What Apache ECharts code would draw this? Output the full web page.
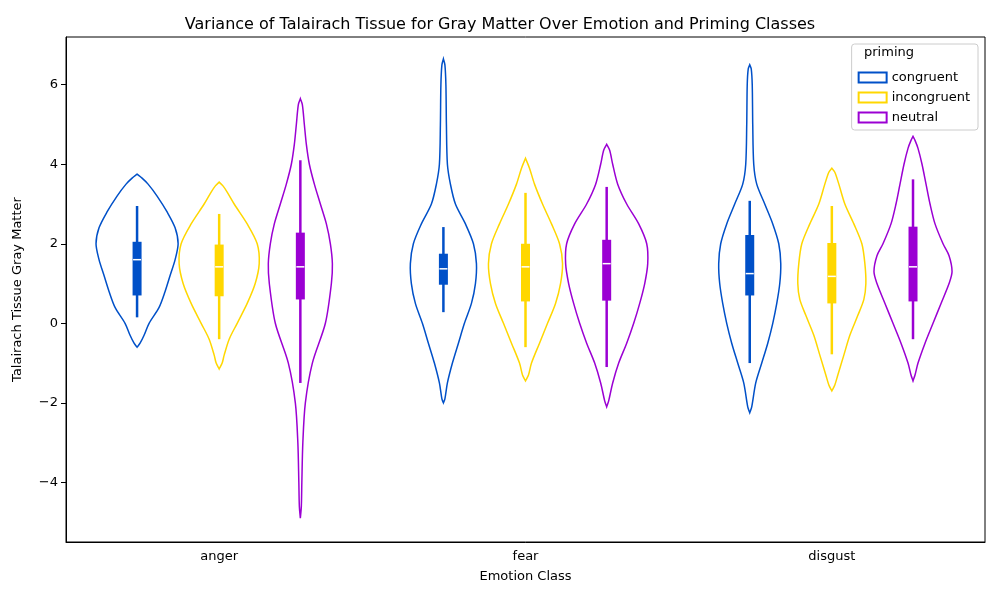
<!DOCTYPE html>
<html>
<head>
<meta charset="utf-8">
<script src="https://cdn.jsdelivr.net/npm/echarts@6/dist/echarts.min.js"></script>
<title>Violin</title>
</head>
<body style="margin:0">
<div id="main" style="width:1000px;height:600px;"></div>
<script type="text/javascript">
var categories = ['anger', 'fear', 'disgust'];
var priming = ['congruent', 'incongruent', 'neutral'];
var colors = ['#0050c8', '#ffd700', '#9b00d3'];

// violin outlines: [value, half width (px at 306px band)]
var congruentProfiles = [
  [[-0.6,0],[-0.5,3],[-0.3,7],[0,12],[0.4,22],[0.8,28],[1.2,33],[1.6,38],[2.0,41],[2.4,38],[2.8,30],[3.2,20],[3.5,11],[3.65,5],[3.75,0]],
  [[-2,0],[-1.9,1.5],[-1.5,4],[-1,9],[-0.5,15],[0,21],[0.5,28],[1,32],[1.5,33],[2,30],[2.5,22],[3,12],[3.5,7],[4,4],[5,3],[6,2.5],[6.5,1.5],[6.65,0]],
  [[-2.25,0],[-2.1,2],[-1.5,6],[-1,12],[-0.5,18],[0,23],[0.5,27],[1,30],[1.5,31],[2,29],[2.5,23],[3,15],[3.5,7],[4,4],[5,3],[6,2.5],[6.4,1.5],[6.5,0]]
];
var incongruentProfiles = [
  [[-1.15,0],[-1.0,3],[-0.8,5],[-0.4,10],[0,18],[0.5,28],[1,36],[1.5,40],[2,38],[2.5,28],[3,15],[3.3,8],[3.45,4],[3.55,0]],
  [[-1.45,0],[-1.3,3],[-1,6],[-0.5,14],[0,22],[0.5,30],[1,35],[1.5,37],[2,34],[2.5,26],[3,17],[3.5,9],[3.9,4],[4.15,0]],
  [[-1.7,0],[-1.55,3],[-1.3,6],[-0.8,12],[-0.3,18],[0.2,26],[0.6,32],[1,34],[1.5,33],[2,30],[2.5,22],[3,13],[3.5,7],[3.8,3],[3.9,0]]
];
var neutralProfiles = [
  [[-4.9,0],[-4.6,1],[-4,1.5],[-3,2.5],[-2,5],[-1,12],[0,25],[1,31],[1.5,32],[2,30],[2.5,26],[3,20],[3.5,14],[4,9],[4.5,6],[5,4],[5.5,2],[5.65,0]],
  [[-2.1,0],[-1.95,2],[-1.5,6],[-1,12],[-0.5,20],[0,27],[0.5,33],[1,38],[1.5,41],[2,40],[2.5,32],[3,20],[3.5,11],[4,6],[4.35,3],[4.5,0]],
  [[-1.45,0],[-1.3,2],[-1,5],[-0.5,12],[0,20],[0.5,28],[1,36],[1.3,39],[1.7,36],[2,30],[2.5,22],[3,17],[3.5,13],[4,9],[4.4,5],[4.6,2],[4.7,0]]
];
// box stats: [whisker low, q1, median, q3, whisker high]
var congruentBoxes = [[0.15,0.7,1.6,2.05,2.95],[0.28,0.97,1.37,1.75,2.42],[-1.0,0.7,1.25,2.22,3.08]];
var incongruentBoxes = [[-0.4,0.68,1.42,1.98,2.75],[-0.6,0.55,1.42,2.0,3.28],[-0.78,0.5,1.18,2.02,2.95]];
var neutralBoxes = [[-1.5,0.6,1.42,2.28,4.1],[-1.1,0.57,1.5,2.1,3.43],[-0.4,0.55,1.42,2.43,3.62]];

var profiles = [congruentProfiles, incongruentProfiles, neutralProfiles];
var boxes = [congruentBoxes, incongruentBoxes, neutralBoxes];
var offsets = [-0.268, 0, 0.265];

function makeSeries(g) {
  return {
    name: priming[g],
    type: 'custom',
    itemStyle: { color: 'transparent', borderColor: colors[g], borderWidth: 1.5 },
    data: categories.map(function (c, i) { return [i]; }),
    renderItem: function (params, api) {
      var i = api.value(0);
      var band = api.size([1, 0])[0];
      var cx = api.coord([i, 0])[0] + offsets[g] * band;
      var prof = profiles[g][i];
      var right = [], left = [];
      prof.forEach(function (p) {
        var y = api.coord([i, p[0]])[1];
        var w = p[1] / 306 * band;
        right.push([cx + w, y]);
        left.unshift([cx - w, y]);
      });
      var b = boxes[g][i];
      var yy = b.map(function (v) { return api.coord([i, v])[1]; });
      return {
        type: 'group',
        children: [
          { type: 'polygon', shape: { points: right.concat(left), smooth: 0.3 },
            style: { fill: 'none', stroke: colors[g], lineWidth: 1.5 } },
          { type: 'line', shape: { x1: cx, y1: yy[0], x2: cx, y2: yy[4] },
            style: { stroke: colors[g], lineWidth: 2.5 } },
          { type: 'rect', shape: { x: cx - 4.5, y: yy[3], width: 9, height: yy[1] - yy[3] },
            style: { fill: colors[g] } },
          { type: 'line', shape: { x1: cx - 4, y1: yy[2], x2: cx + 4, y2: yy[2] },
            style: { stroke: '#fff', lineWidth: 1.5 } }
        ]
      };
    }
  };
}

var myChart = echarts.init(document.getElementById('main'));
myChart.setOption({
  animation: false,
  textStyle: { fontFamily: 'DejaVu Sans' },
  title: { text: 'Variance of Talairach Tissue for Gray Matter Over Emotion and Priming Classes',
    left: 'center', top: 12, textStyle: { fontFamily: 'DejaVu Sans', fontSize: 16, fontWeight: 'normal', color: '#000' } },
  grid: { left: 66, right: 15, top: 37, bottom: 58, show: true, borderColor: '#000', borderWidth: 1 },
  legend: {
    orient: 'vertical', right: 22, top: 44, padding: [27, 8, 6, 6],
    borderColor: '#ccc', borderWidth: 1, borderRadius: 3, backgroundColor: '#fff',
    itemWidth: 28, itemHeight: 10, itemGap: 7, icon: 'rect',
    textStyle: { fontFamily: 'DejaVu Sans', fontSize: 13, color: '#000' },
    data: priming
  },
  graphic: [{ type: 'text', right: 86, top: 46, z: 100, style: { text: 'priming', font: '13px DejaVu Sans', fill: '#000' } }],
  xAxis: {
    type: 'category', data: categories, name: 'Emotion Class', nameLocation: 'middle', nameGap: 28,
    nameTextStyle: { fontFamily: 'DejaVu Sans', fontSize: 13, color: '#000' },
    axisLine: { onZero: false, lineStyle: { color: '#000' } },
    axisTick: { alignWithLabel: true, lineStyle: { color: '#000' } },
    axisLabel: { fontFamily: 'DejaVu Sans', fontSize: 13, color: '#000' }
  },
  yAxis: {
    type: 'value', min: -5.5, max: 7.2, name: 'Talairach Tissue Gray Matter', nameLocation: 'middle', nameGap: 42,
    nameTextStyle: { fontFamily: 'DejaVu Sans', fontSize: 13, color: '#000' },
    splitLine: { show: false },
    axisLine: { show: true, lineStyle: { color: '#000' } },
    axisTick: { show: true, customValues: [-4, -2, 0, 2, 4, 6], lineStyle: { color: '#000' } },
    axisLabel: { fontFamily: 'DejaVu Sans', fontSize: 13, color: '#000', customValues: [-4, -2, 0, 2, 4, 6],
      formatter: function (v) { return String(v).replace('-', '\u2212'); } }
  },
  series: [makeSeries(0), makeSeries(1), makeSeries(2)]
});
</script>
</body>
</html>
